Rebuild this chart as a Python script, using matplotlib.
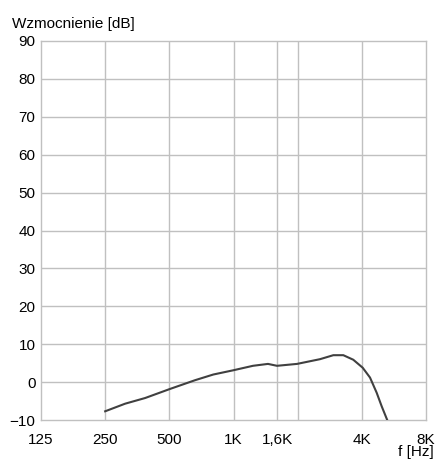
import numpy as np
from matplotlib import pyplot as plt

# frequency response
freq = [250, 310, 385, 504, 660, 804, 994, 1234, 1451, 1600, 1986, 2547,
        2940, 3275, 3647, 4036, 4369, 4695, 4958, 5262]
gain = [-7.7, -5.7, -4.2, -1.8, 0.5, 2.0, 3.1, 4.3, 4.8, 4.3, 4.8, 6.05,
        7.1, 7.1, 5.9, 3.8, 1.2, -2.8, -6.4, -10.0]

x_ticks = [125, 250, 500, 1000, 1600, 4000, 8000]
x_labels = ['125', '250', '500', '1K', '1,6K', '4K', '8K']
x_grid = [250, 500, 1000, 1600, 2000, 4000]
y_ticks = list(range(-10, 91, 10))

plt.rcParams['font.family'] = ['Liberation Sans', 'DejaVu Sans']

fig = plt.figure(figsize=(4.37, 4.63), dpi=100)
ax = fig.add_axes([41 / 437, 43 / 463, 385 / 437, 379 / 463])

ax.set_xscale('log', base=2)
ax.set_xlim(125, 8000)
ax.set_ylim(-10, 90)

grid_c = '#c0c0c0'
for xv in x_grid:
    ax.axvline(xv, color=grid_c, lw=1, zorder=1)
for yv in y_ticks[1:-1]:
    ax.axhline(yv, color=grid_c, lw=1, zorder=1)
for s in ax.spines.values():
    s.set_color(grid_c)
    s.set_linewidth(1)

ax.plot(freq, gain, color='#404040', lw=1.5, zorder=3)

ax.set_xticks(x_ticks)
ax.set_xticklabels(x_labels)
ax.minorticks_off()
ax.set_yticks(y_ticks)
ax.tick_params(axis='both', length=0, labelsize=11, colors='black')
ax.tick_params(axis='x', pad=9)
ax.tick_params(axis='y', pad=4)

fig.text(12 / 437, 1 - 24 / 463, 'Wzmocnienie [dB]', fontsize=11, va='center', ha='left')
fig.text(434 / 437, 1 - 452 / 463, 'f [Hz]', fontsize=11, va='center', ha='right')

fig.savefig('out.png', dpi=100)
